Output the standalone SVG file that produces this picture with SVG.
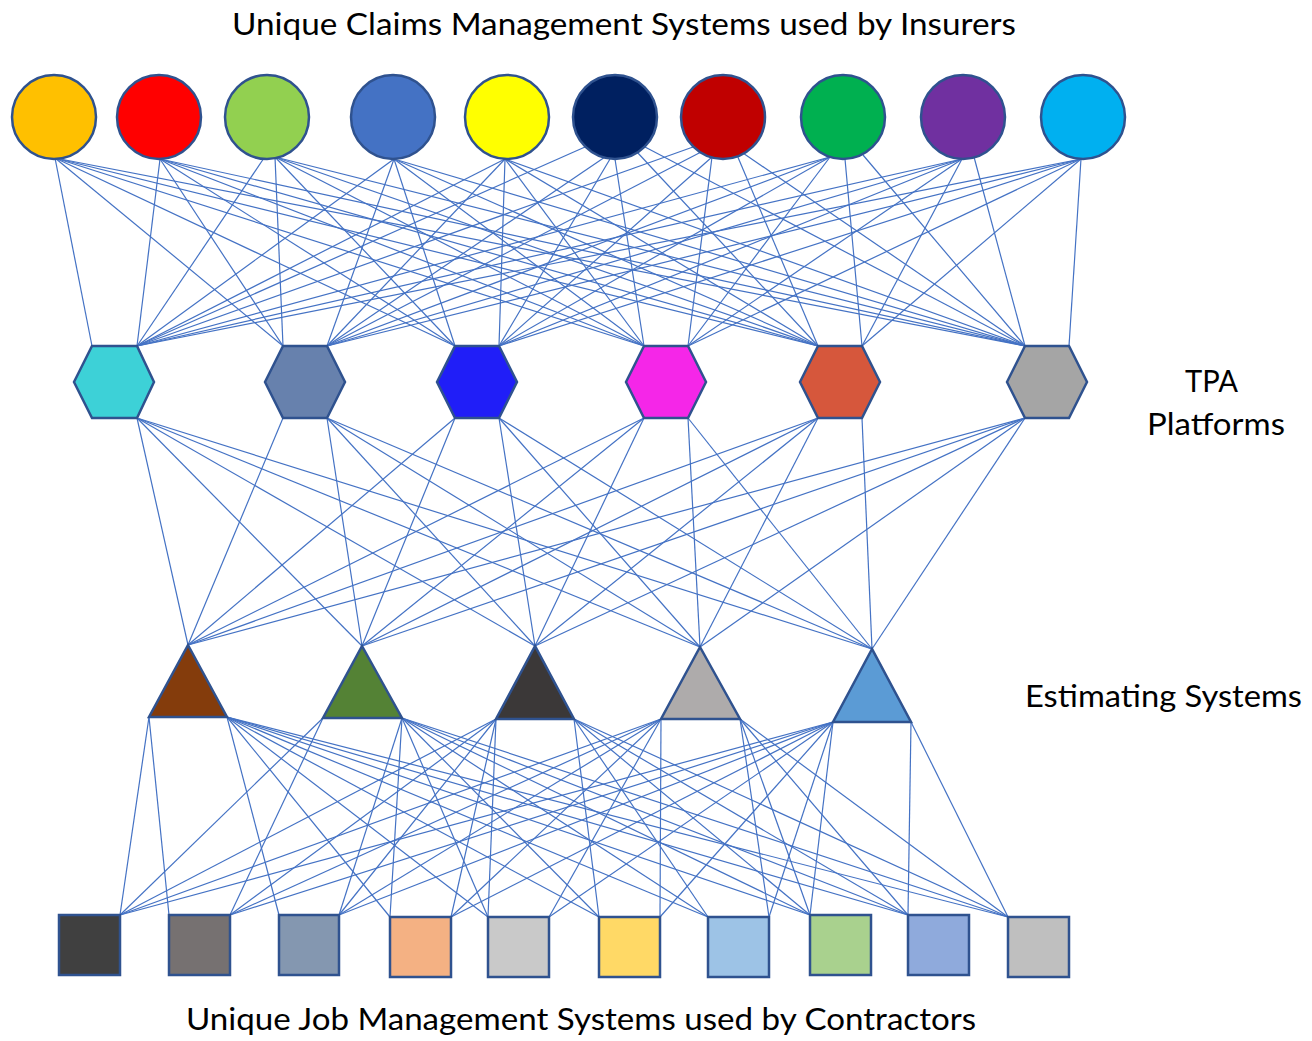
<svg xmlns="http://www.w3.org/2000/svg" width="1312" height="1041" viewBox="0 0 1312 1041">
<style>
.c{stroke:#4472C4;stroke-width:1.2;fill:none}
.n{stroke:#2F528F;stroke-width:2.5;stroke-linejoin:miter}
.t{font-family:Lato,"Open Sans","Liberation Sans",sans-serif;font-size:30px;fill:#000}
</style>
<rect width="1312" height="1041" fill="#fff"/>
<g id="connectors" class="c">
<!-- circles to hexagons -->
<line x1="55" y1="158" x2="92" y2="346"/><line x1="55" y1="158" x2="283" y2="346"/><line x1="55" y1="158" x2="455" y2="346"/><line x1="55" y1="158" x2="644" y2="346"/><line x1="55" y1="158" x2="818" y2="346"/><line x1="55" y1="158" x2="1025" y2="346"/>
<line x1="160" y1="159" x2="137" y2="346"/><line x1="160" y1="159" x2="283" y2="346"/><line x1="160" y1="159" x2="455" y2="346"/><line x1="160" y1="159" x2="644" y2="346"/><line x1="160" y1="159" x2="818" y2="346"/><line x1="160" y1="159" x2="1025" y2="346"/>
<line x1="264" y1="158" x2="137" y2="346"/><line x1="275" y1="157" x2="283" y2="346"/><line x1="275" y1="157" x2="455" y2="346"/><line x1="275" y1="157" x2="644" y2="346"/><line x1="275" y1="157" x2="818" y2="346"/><line x1="275" y1="157" x2="1025" y2="346"/>
<line x1="394" y1="159" x2="137" y2="346"/><line x1="394" y1="159" x2="327" y2="346"/><line x1="394" y1="159" x2="455" y2="346"/><line x1="394" y1="159" x2="644" y2="346"/><line x1="394" y1="159" x2="818" y2="346"/><line x1="394" y1="159" x2="1025" y2="346"/>
<line x1="505" y1="159" x2="137" y2="346"/><line x1="505" y1="159" x2="327" y2="346"/><line x1="505" y1="159" x2="499" y2="346"/><line x1="505" y1="159" x2="644" y2="346"/><line x1="505" y1="159" x2="818" y2="346"/><line x1="505" y1="159" x2="1025" y2="346"/>
<line x1="585" y1="147" x2="137" y2="346"/><line x1="605" y1="157" x2="327" y2="346"/><line x1="610" y1="159" x2="499" y2="346"/><line x1="615" y1="159" x2="644" y2="346"/><line x1="637" y1="152" x2="818" y2="346"/><line x1="645" y1="147" x2="1025" y2="346"/>
<line x1="693" y1="147" x2="137" y2="346"/><line x1="703" y1="151" x2="327" y2="346"/><line x1="712" y1="157" x2="499" y2="346"/><line x1="712" y1="157" x2="688" y2="346"/><line x1="737" y1="155" x2="818" y2="346"/><line x1="740" y1="151" x2="1025" y2="346"/>
<line x1="830" y1="157" x2="137" y2="346"/><line x1="830" y1="157" x2="327" y2="346"/><line x1="830" y1="157" x2="499" y2="346"/><line x1="830" y1="157" x2="688" y2="346"/><line x1="845" y1="159" x2="862" y2="346"/><line x1="863" y1="155" x2="1025" y2="346"/>
<line x1="962" y1="159" x2="137" y2="346"/><line x1="962" y1="159" x2="327" y2="346"/><line x1="962" y1="159" x2="499" y2="346"/><line x1="962" y1="159" x2="688" y2="346"/><line x1="962" y1="159" x2="862" y2="346"/><line x1="974" y1="157" x2="1025" y2="346"/>
<line x1="1081" y1="159" x2="137" y2="346"/><line x1="1081" y1="159" x2="327" y2="346"/><line x1="1081" y1="159" x2="499" y2="346"/><line x1="1081" y1="159" x2="688" y2="346"/><line x1="1081" y1="159" x2="862" y2="346"/><line x1="1081" y1="159" x2="1069" y2="346"/>
<!-- hexagons to triangles -->
<line x1="137" y1="418" x2="188" y2="645"/><line x1="137" y1="418" x2="362" y2="646"/><line x1="137" y1="418" x2="535" y2="646"/><line x1="137" y1="418" x2="700" y2="647"/><line x1="137" y1="418" x2="872" y2="649"/>
<line x1="283" y1="418" x2="188" y2="645"/><line x1="327" y1="418" x2="362" y2="646"/><line x1="327" y1="418" x2="535" y2="646"/><line x1="327" y1="418" x2="700" y2="647"/><line x1="327" y1="418" x2="872" y2="649"/>
<line x1="455" y1="418" x2="188" y2="645"/><line x1="455" y1="418" x2="362" y2="646"/><line x1="499" y1="418" x2="535" y2="646"/><line x1="499" y1="418" x2="700" y2="647"/><line x1="499" y1="418" x2="872" y2="649"/>
<line x1="644" y1="418" x2="188" y2="645"/><line x1="644" y1="418" x2="362" y2="646"/><line x1="644" y1="418" x2="535" y2="646"/><line x1="688" y1="418" x2="700" y2="647"/><line x1="688" y1="418" x2="872" y2="649"/>
<line x1="818" y1="418" x2="188" y2="645"/><line x1="818" y1="418" x2="362" y2="646"/><line x1="818" y1="418" x2="535" y2="646"/><line x1="818" y1="418" x2="700" y2="647"/><line x1="862" y1="418" x2="872" y2="649"/>
<line x1="1025" y1="418" x2="188" y2="645"/><line x1="1025" y1="418" x2="362" y2="646"/><line x1="1025" y1="418" x2="535" y2="646"/><line x1="1025" y1="418" x2="700" y2="647"/><line x1="1025" y1="418" x2="872" y2="649"/>
<!-- triangles to squares -->
<line x1="149" y1="717" x2="120" y2="915"/><line x1="149" y1="717" x2="169" y2="915"/><line x1="227" y1="717" x2="279" y2="915"/><line x1="227" y1="717" x2="390" y2="917"/><line x1="227" y1="717" x2="488" y2="917"/><line x1="227" y1="717" x2="599" y2="917"/><line x1="227" y1="717" x2="708" y2="917"/><line x1="227" y1="717" x2="810" y2="915"/><line x1="227" y1="717" x2="908" y2="915"/><line x1="227" y1="717" x2="1008" y2="917"/>
<line x1="323" y1="718" x2="120" y2="915"/><line x1="323" y1="718" x2="230" y2="915"/><line x1="402" y1="718" x2="339" y2="915"/><line x1="402" y1="718" x2="390" y2="917"/><line x1="402" y1="718" x2="488" y2="917"/><line x1="402" y1="718" x2="599" y2="917"/><line x1="402" y1="718" x2="708" y2="917"/><line x1="402" y1="718" x2="810" y2="915"/><line x1="402" y1="718" x2="908" y2="915"/><line x1="402" y1="718" x2="1008" y2="917"/>
<line x1="496" y1="719" x2="120" y2="915"/><line x1="496" y1="719" x2="230" y2="915"/><line x1="496" y1="719" x2="339" y2="915"/><line x1="496" y1="719" x2="451" y2="917"/><line x1="496" y1="719" x2="488" y2="917"/><line x1="574" y1="719" x2="599" y2="917"/><line x1="574" y1="719" x2="708" y2="917"/><line x1="574" y1="719" x2="810" y2="915"/><line x1="574" y1="719" x2="908" y2="915"/><line x1="574" y1="719" x2="1008" y2="917"/>
<line x1="661" y1="719" x2="120" y2="915"/><line x1="661" y1="719" x2="230" y2="915"/><line x1="661" y1="719" x2="339" y2="915"/><line x1="661" y1="719" x2="451" y2="917"/><line x1="661" y1="719" x2="549" y2="917"/><line x1="661" y1="719" x2="660" y2="917"/><line x1="740" y1="719" x2="769" y2="917"/><line x1="740" y1="719" x2="810" y2="915"/><line x1="740" y1="719" x2="908" y2="915"/><line x1="740" y1="719" x2="1008" y2="917"/>
<line x1="833" y1="722" x2="120" y2="915"/><line x1="833" y1="722" x2="230" y2="915"/><line x1="833" y1="722" x2="339" y2="915"/><line x1="833" y1="722" x2="451" y2="917"/><line x1="833" y1="722" x2="549" y2="917"/><line x1="833" y1="722" x2="660" y2="917"/><line x1="833" y1="722" x2="769" y2="917"/><line x1="833" y1="722" x2="810" y2="915"/><line x1="911" y1="722" x2="908" y2="915"/><line x1="911" y1="722" x2="1008" y2="917"/>
</g>
<g id="insurers">
<g id="c1"><circle class="n" cx="54" cy="117" r="42" fill="#FFC000"/></g>
<g id="c2"><circle class="n" cx="159" cy="117" r="42" fill="#FF0000"/></g>
<g id="c3"><circle class="n" cx="267" cy="117" r="42" fill="#92D050"/></g>
<g id="c4"><circle class="n" cx="393" cy="117" r="42" fill="#4472C4"/></g>
<g id="c5"><circle class="n" cx="507" cy="117" r="42" fill="#FFFF00"/></g>
<g id="c6"><circle class="n" cx="615" cy="117" r="42" fill="#002060"/></g>
<g id="c7"><circle class="n" cx="723" cy="117" r="42" fill="#C00000"/></g>
<g id="c8"><circle class="n" cx="843" cy="117" r="42" fill="#00B050"/></g>
<g id="c9"><circle class="n" cx="963" cy="117" r="42" fill="#7030A0"/></g>
<g id="c10"><circle class="n" cx="1083" cy="117" r="42" fill="#00B0F0"/></g>
</g>
<g id="tpa">
<g id="h1"><polygon class="n" fill="#3DD1D7" points="74,382 92,346 137,346 154,382 137,418 92,418"/></g>
<g id="h2"><polygon class="n" fill="#6781AD" points="265,382 283,346 327,346 345,382 327,418 283,418"/></g>
<g id="h3"><polygon class="n" fill="#201EF8" points="437,382 455,346 499,346 517,382 499,418 455,418"/></g>
<g id="h4"><polygon class="n" fill="#F526E8" points="626,382 644,346 688,346 706,382 688,418 644,418"/></g>
<g id="h5"><polygon class="n" fill="#D6573C" points="800,382 818,346 862,346 880,382 862,418 818,418"/></g>
<g id="h6"><polygon class="n" fill="#A5A5A5" points="1007,382 1025,346 1069,346 1087,382 1069,418 1025,418"/></g>
</g>
<g id="estimating">
<g id="t1"><polygon class="n" fill="#843C0C" points="188,645 149,717 227,717"/></g>
<g id="t2"><polygon class="n" fill="#548235" points="362,646 323,718 402,718"/></g>
<g id="t3"><polygon class="n" fill="#3B3838" points="535,646 496,719 574,719"/></g>
<g id="t4"><polygon class="n" fill="#AEABAB" points="700,647 661,719 740,719"/></g>
<g id="t5"><polygon class="n" fill="#5B9BD5" points="872,649 833,722 911,722"/></g>
</g>
<g id="contractors">
<g id="s1"><rect class="n" x="59" y="915" width="61" height="60" fill="#404040"/></g>
<g id="s2"><rect class="n" x="169" y="915" width="61" height="60" fill="#767171"/></g>
<g id="s3"><rect class="n" x="279" y="915" width="60" height="60" fill="#8497B0"/></g>
<g id="s4"><rect class="n" x="390" y="917" width="61" height="60" fill="#F4B183"/></g>
<g id="s5"><rect class="n" x="488" y="917" width="61" height="60" fill="#C9C9C9"/></g>
<g id="s6"><rect class="n" x="599" y="917" width="61" height="60" fill="#FFD966"/></g>
<g id="s7"><rect class="n" x="708" y="917" width="61" height="60" fill="#9DC3E6"/></g>
<g id="s8"><rect class="n" x="810" y="915" width="61" height="60" fill="#A9D18E"/></g>
<g id="s9"><rect class="n" x="908" y="915" width="61" height="60" fill="#8FAADC"/></g>
<g id="s10"><rect class="n" x="1008" y="917" width="61" height="60" fill="#BFBFBF"/></g>
</g>
<g id="labels">
<text class="t" x="232" y="35" textLength="784" lengthAdjust="spacingAndGlyphs">Unique Claims Management Systems used by Insurers</text>
<text class="t" x="1185" y="392" textLength="53" lengthAdjust="spacingAndGlyphs">TPA</text>
<text class="t" x="1147" y="435" textLength="138" lengthAdjust="spacingAndGlyphs">Platforms</text>
<text class="t" x="1025" y="707" textLength="277" lengthAdjust="spacingAndGlyphs">Estimating Systems</text>
<text class="t" x="186" y="1030" textLength="790" lengthAdjust="spacingAndGlyphs">Unique Job Management Systems used by Contractors</text>
</g>
</svg>
